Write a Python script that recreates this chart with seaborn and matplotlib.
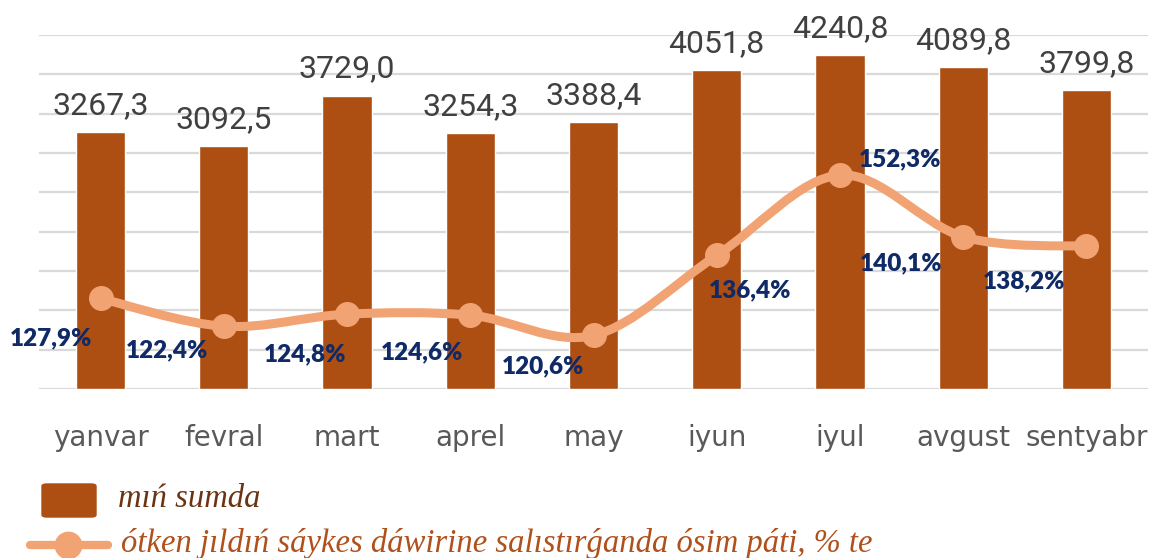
import numpy as np
import matplotlib
matplotlib.use("Agg")
import matplotlib.pyplot as plt
import seaborn as sns
from matplotlib.path import Path
from matplotlib.patches import PathPatch, FancyBboxPatch
from matplotlib.lines import Line2D

# data
months = ["yanvar", "fevral", "mart", "aprel", "may", "iyun", "iyul", "avgust", "sentyabr"]
sums = [3267.3, 3092.5, 3729.0, 3254.3, 3388.4, 4051.8, 4240.8, 4089.8, 3799.8]
growth = [127.9, 122.4, 124.8, 124.6, 120.6, 136.4, 152.3, 140.1, 138.2]

bar_label = "mıń sumda"
line_label = "ótken jıldıń sáykes dáwirine salıstırǵanda ósim páti, % te"

bar_color = "#ad4e12"
line_color = "#f2a373"
pct_color = "#0f2a66"

# label offsets (points) for the percentage labels
pct_offsets = [(-36, -29), (-41, -17), (-30, -29), (-35, -27), (-36, -22),
               (24, -25), (43, 11), (-45, -19), (-45, -25)]

sns.set_style("white")
fig = plt.figure(figsize=(11.51, 5.58), dpi=100)
ax = fig.add_axes([39 / 1151, 169 / 558, 1109 / 1151, 354 / 558])

sns.barplot(x=months, y=sums, color=bar_color, width=0.4, saturation=1,
            ax=ax, zorder=2)

for i, v in enumerate(sums):
    ax.annotate(f"{v:.1f}".replace(".", ","), (i, v), xytext=(0, 13),
                textcoords="offset points", ha="center", va="baseline",
                fontsize=23, color="#404040",
                family=["Roboto", "DejaVu Sans"],
                annotation_clip=False)

# secondary axis for growth line
ax2 = ax.twinx()
ax2.set_ylim(110, 180)
ax2.set_axis_off()

# smoothed line (catmull-rom as cubic bezier)
pts = np.column_stack([np.arange(len(growth)), growth]).astype(float)
ext = np.vstack([pts[0], pts, pts[-1]])
verts = [tuple(pts[0])]
codes = [Path.MOVETO]
for k in range(1, len(ext) - 2):
    p0, p1, p2, p3 = ext[k - 1], ext[k], ext[k + 1], ext[k + 2]
    c1 = p1 + (p2 - p0) / 6
    c2 = p2 - (p3 - p1) / 6
    verts += [tuple(c1), tuple(c2), tuple(p2)]
    codes += [Path.CURVE4] * 3
ax2.add_patch(PathPatch(Path(verts, codes), fill=False, edgecolor=line_color,
                        linewidth=6.5, capstyle="round", zorder=3))
ax2.plot(range(len(growth)), growth, linestyle="none", marker="o",
         markersize=17, color=line_color, zorder=4)

for i, (g, off) in enumerate(zip(growth, pct_offsets)):
    ax2.annotate(f"{g:.1f}%".replace(".", ","), (i, g), xytext=off,
                 textcoords="offset points", ha="center", va="center",
                 fontsize=17.5, fontweight="heavy", color=pct_color,
                 family=["Lato", "DejaVu Sans"], zorder=5)

# axis styling (after twinx, which turns the left ticks back on)
ax.set_xlim(-0.5, len(months) - 0.5)
ax.set_ylim(0, 4500)
ax.set_yticks(np.arange(0, 4501, 500))
ax.yaxis.grid(True, color="#d9d9d9", linewidth=1.6, zorder=0)
ax.set_axisbelow(True)
ax.tick_params(axis="y", left=False, right=False, labelleft=False)
ax.tick_params(axis="x", bottom=False, pad=22, labelsize=20, labelcolor="#595959")
for s in ax.spines.values():
    s.set_visible(False)
ax.set_xlabel("")
ax.set_ylabel("")

# legend drawn by hand below the chart
W, H = 1151, 558
fig.patches.append(FancyBboxPatch((42 / W, 1 - 517 / H), 54 / W, 33 / H,
                                  boxstyle="round,pad=0,rounding_size=0.004",
                                  transform=fig.transFigure, color=bar_color))
fig.lines.append(Line2D([30 / W, 108 / W], [1 - 545 / H] * 2, transform=fig.transFigure,
                        color=line_color, linewidth=6, solid_capstyle="round"))
fig.lines.append(Line2D([68 / W], [1 - 545 / H], transform=fig.transFigure,
                        color=line_color, marker="o", markersize=19))
serif = ["Liberation Serif", "DejaVu Serif"]
fig.text(118 / W, 1 - 507 / H, bar_label, fontsize=23.5, style="italic",
         color="#6b3312", family=serif, va="baseline")
fig.text(121 / W, 1 - 552 / H, line_label, fontsize=23.5, style="italic",
         color="#b0501a", family=serif, va="baseline")

fig.savefig("out.png", dpi=100)
